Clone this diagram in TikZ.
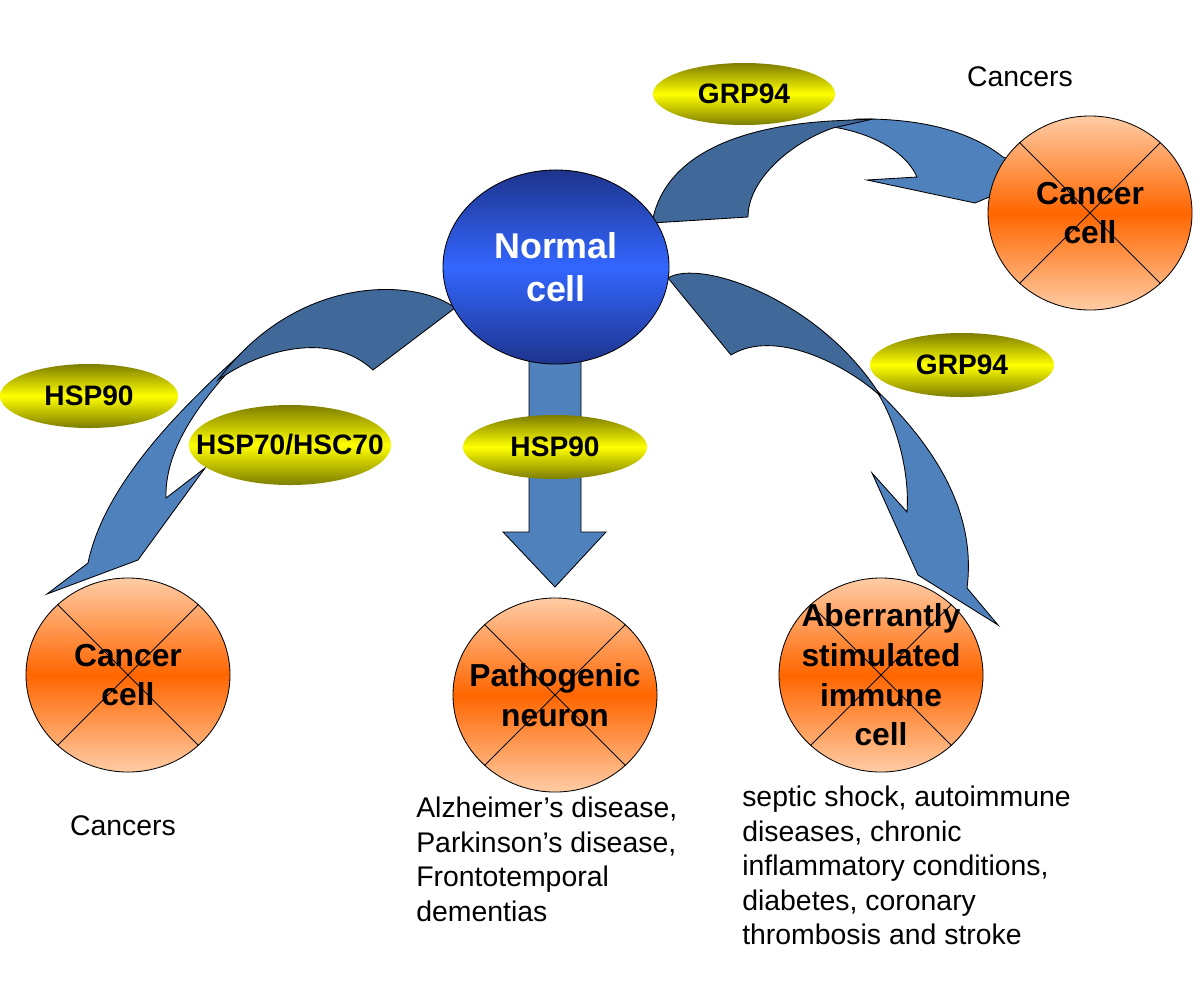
\documentclass[tikz,border=0pt]{standalone}
\usepackage{fontspec}
\setmainfont{Liberation Sans}
\usetikzlibrary{shapes.geometric}
\definecolor{arrdark}{RGB}{64,104,152}
\definecolor{arrlight}{RGB}{79,129,189}
\definecolor{celldark}{RGB}{30,52,140}
\definecolor{cellbright}{RGB}{51,102,255}
\definecolor{peach}{RGB}{255,204,165}
\definecolor{orng}{RGB}{255,102,0}
\definecolor{olive}{RGB}{125,125,0}
\definecolor{yel}{RGB}{255,255,0}
\tikzset{
 arrowdark/.style={fill=arrdark, draw=black, line width=0.6pt},
 arrowlight/.style={fill=arrlight, draw=black, line width=0.6pt},
 normalcell/.style={ellipse, draw=black, line width=0.6pt, top color=celldark, bottom color=celldark, middle color=cellbright, minimum width=5.65cm, minimum height=4.85cm, inner sep=0pt, text=white, font=\bfseries\fontsize{25.5pt}{30.6pt}\selectfont, align=center},
 deadcell/.style={ellipse, draw=black, line width=0.6pt, top color=peach, bottom color=peach, middle color=orng, minimum width=5.1cm, minimum height=4.85cm, inner sep=0pt},
 celltext/.style={inner sep=0pt, font=\bfseries\fontsize{22.6pt}{28.2pt}\selectfont, align=center},
 chaperone/.style={ellipse, top color=olive, bottom color=olive, middle color=yel, inner sep=0pt},
 chaptext/.style={inner sep=0pt, font=\bfseries\fontsize{20pt}{24pt}\selectfont},
 crossline/.style={draw=black, line width=0.6pt},
 plaintext/.style={inner sep=0pt, font=\fontsize{20.2pt}{24.5pt}\selectfont, align=left},
}
\begin{document}
\begin{tikzpicture}[x=0.025cm,y=-0.025cm]
\useasboundingbox (0,0) rectangle (1200,1000);
% ---------- arrows ----------
% top arrow (to right cancer cell)
\path[arrowlight] (833,127) .. controls (870,133) and (905,150) .. (917,177) -- (867,180) -- (975,203) -- (1030,180) -- (1025,165) -- (1003,157) .. controls (975,135) and (930,118) .. (857,119) -- cycle;
\path[arrowdark] (652,223) .. controls (662,165) and (720,128) .. (830,121) -- (873,119) -- (833,128) .. controls (790,143) and (748,180) .. (748,217) -- cycle;
% right arrow (to immune cell)
\path[arrowlight] (877,392) .. controls (895,420) and (910,470) .. (907,512) -- (872,473) -- (918,575) -- (998,625) -- (967,588) .. controls (975,525) and (950,455) .. (860,375) -- cycle;
\path[arrowdark] (668,278) .. controls (700,258) and (820,300) .. (880,395) -- (877,393) .. controls (845,365) and (775,328) .. (731,355) -- cycle;
% left arrow (to left cancer cell)
\path[arrowlight] (245,350) .. controls (190,400) and (105,480) .. (88,563) -- (47,594) -- (138,560) -- (205,468) -- (166,498) .. controls (165,460) and (185,420) .. (228,372) -- cycle;
\path[arrowdark] (455,308) .. controls (420,280) and (300,270) .. (218,380) .. controls (260,350) and (330,330) .. (373,370) -- cycle;
% straight middle arrow
\path[arrowlight] (529,350) -- (581,350) -- (581,532) -- (606,532) -- (555,587) -- (503,532) -- (529,532) -- cycle;
% ---------- cells ----------
\node[normalcell] (normal) at (556,267) {Normal\\cell};
\node[deadcell] (cancerL) at (128,675) {};
\node[deadcell] (neuron) at (555,695) {};
\node[deadcell] (immune) at (881,675) {};
\node[deadcell] (cancerR) at (1090,213) {};
\foreach \c in {cancerL,neuron,immune,cancerR}{
  \draw[crossline] (\c.45) -- (\c.225);
  \draw[crossline] (\c.135) -- (\c.315);
}
\node[celltext] (cancerLtext) at (cancerL.center) {Cancer\\cell};
\node[celltext] (neurontext) at (neuron.center) {Pathogenic\\neuron};
\node[celltext] (immunetext) at (immune.center) {Aberrantly\\stimulated\\immune\\cell};
\node[celltext] (cancerRtext) at (cancerR.center) {Cancer\\cell};
% ---------- chaperones ----------
\node[chaperone, minimum width=4.55cm, minimum height=1.55cm, label={[chaptext]center:GRP94}] (grptop) at (744,94) {};
\node[chaperone, minimum width=4.45cm, minimum height=1.6cm, label={[chaptext]center:HSP90}] (hspleft) at (89,396) {};
\node[chaperone, minimum width=5.05cm, minimum height=2.0cm, label={[chaptext]center:HSP70/HSC70}] (hsp70) at (290,445) {};
\node[chaperone, minimum width=4.6cm, minimum height=1.6cm, label={[chaptext]center:HSP90}] (hspmid) at (555,447) {};
\node[chaperone, minimum width=4.6cm, minimum height=1.6cm, label={[chaptext]center:GRP94}] (grpright) at (962,365) {};
% ---------- texts ----------
\node[plaintext, anchor=base] (cancersR) at (1020,86) {Cancers};
\node[plaintext, anchor=base] (cancersL) at (123,835) {Cancers};
\node[plaintext, anchor=north west] (alz) at (416,797) {Alzheimer’s disease,\\Parkinson’s disease,\\Frontotemporal\\dementias};
\node[plaintext, anchor=north west] (septic) at (742,786) {septic shock, autoimmune\\diseases, chronic\\inflammatory conditions,\\diabetes, coronary\\thrombosis and stroke};
\end{tikzpicture}
\end{document}
